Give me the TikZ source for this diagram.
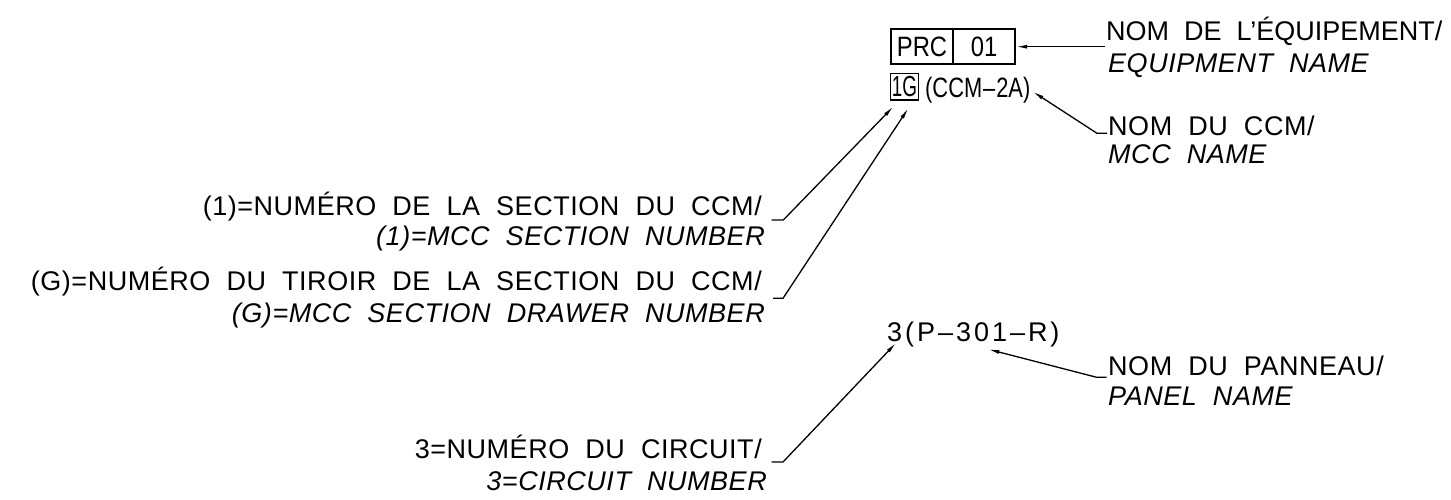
\documentclass[tikz,border=0pt]{standalone}
\usepackage{fontspec}
\setmainfont{Liberation Sans}[LetterSpace=2, WordSpace=2]
\newfontfamily\plainfont{Liberation Sans}[WordSpace=2]
\newfontfamily\boxfont{Liberation Sans}[FakeStretch=0.85]
\newfontfamily\condfont{Liberation Sans}[FakeStretch=0.78]
\newfontfamily\tightfont{Liberation Sans}[FakeStretch=0.65]
\newfontfamily\widefont{Liberation Sans}[LetterSpace=11]
\usetikzlibrary{arrows.meta}
\tikzset{
  lbl/.style={inner sep=0pt, font=\fontsize{27}{30}\selectfont},
  ilbl/.style={inner sep=0pt, font=\fontsize{27}{30}\selectfont\itshape},
  tagbox/.style={draw, line width=2pt, inner sep=0pt, minimum height=34.7pt, font=\boxfont\fontsize{28}{30}\selectfont},
  smallbox/.style={draw, line width=1.2pt, inner sep=0pt, minimum width=27.6pt, minimum height=26.7pt, font=\tightfont\fontsize{29}{30}\selectfont},
  leader/.style={line width=1.3pt, -{Latex[length=11pt,width=4pt]}},
}
\begin{document}
\begin{tikzpicture}[x=1pt,y=-1pt]
\useasboundingbox (0,0) rectangle (1451,499);
% top tag
\node[tagbox, minimum width=62.6pt] (prc) at (922,46.7) {PRC};
\node[tagbox, minimum width=61.7pt] (n01) at (984.2,46.7) {01};
\node[smallbox] (oneg) at (904.5,86.7) {1G};
\node[lbl, anchor=base west, font=\condfont\fontsize{28}{30}\selectfont] (ccm) at (925,97) {(CCM\kern1pt\textendash\kern1pt 2A)};
% right labels
\node[lbl, anchor=base west, font=\plainfont\fontsize{27}{30}\selectfont] (eqfr) at (1106,40) {NOM DE L’ÉQUIPEMENT/};
\node[ilbl, anchor=base west] (eqen) at (1108,72.7) {EQUIPMENT NAME};
\node[lbl, anchor=base west] (ccmfr) at (1108,135) {NOM DU CCM/};
\node[ilbl, anchor=base west] (ccmen) at (1108,163) {MCC NAME};
\node[lbl, anchor=base west] (panfr) at (1108,375) {NOM DU PANNEAU/};
\node[ilbl, anchor=base west] (panen) at (1108,405) {PANEL NAME};
% circuit tag
\node[lbl, anchor=base west, font=\widefont\fontsize{27}{30}\selectfont] (circ) at (887,341) {3(P\textendash 301\textendash R)};
% left labels
\node[lbl, anchor=base east] (secfr) at (762,215) {(1)=NUMÉRO DE LA SECTION DU CCM/};
\node[ilbl, anchor=base east] (secen) at (765,245) {(1)=MCC SECTION NUMBER};
\node[lbl, anchor=base east] (drwfr) at (762,290) {(G)=NUMÉRO DU TIROIR DE LA SECTION DU CCM/};
\node[ilbl, anchor=base east] (drwen) at (765,322) {(G)=MCC SECTION DRAWER NUMBER};
\node[lbl, anchor=base east] (cirfr) at (762,458) {3=NUMÉRO DU CIRCUIT/};
\node[ilbl, anchor=base east] (ciren) at (767,490) {3=CIRCUIT NUMBER};
% leader points
\coordinate (eqA) at (1105,46.7);
\coordinate (ccmA) at (1107,133.3);
\coordinate (ccmB) at (1097,133.3);
\coordinate (ccmT) at (1033,91.7);
\coordinate (secA) at (771.7,220);
\coordinate (secB) at (783.3,220);
\coordinate (secT) at (893.3,106.7);
\coordinate (drwA) at (773,298.3);
\coordinate (drwB) at (783,298.3);
\coordinate (drwT) at (908.3,108.3);
\coordinate (cirA) at (771.7,462);
\coordinate (cirB) at (783,462);
\coordinate (cirT) at (896,343);
\coordinate (panA) at (1106.7,377.3);
\coordinate (panB) at (1096.7,377.3);
\coordinate (panT) at (988.3,349.3);
% leaders
\draw[leader] (eqA) -- (n01.east);
\draw[leader] (ccmA) -- (ccmB) -- (ccmT);
\draw[leader] (secA) -- (secB) -- (secT);
\draw[leader] (drwA) -- (drwB) -- (drwT);
\draw[leader] (cirA) -- (cirB) -- (cirT);
\draw[leader] (panA) -- (panB) -- (panT);
\end{tikzpicture}
\end{document}
